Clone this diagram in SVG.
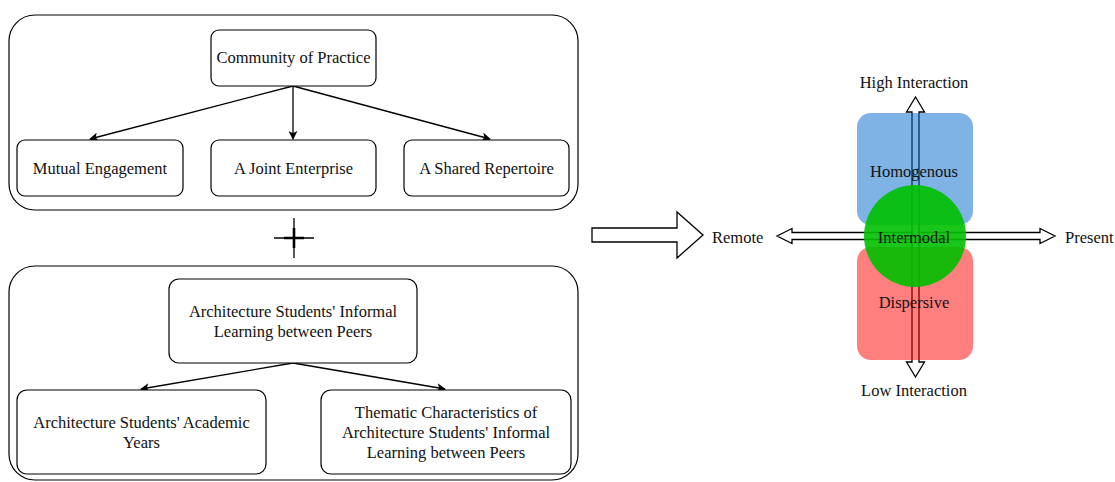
<svg xmlns="http://www.w3.org/2000/svg" width="1115" height="482" viewBox="0 0 1115 482">
<defs>
<style>
.box{fill:#fff;stroke:#000;stroke-width:1.2}
.cont{fill:none;stroke:#000;stroke-width:1.2}
text{font-family:"Liberation Serif","Times New Roman",serif;font-size:16.5px;fill:#111;text-anchor:middle;dominant-baseline:central}
.st{text-anchor:start}
.edge{stroke:#000;stroke-width:1.3;fill:none}
.hollow{fill:#fff;stroke:#000;stroke-width:1.3;stroke-linejoin:miter}
</style>
<marker id="ah" viewBox="0 0 10 10" refX="9" refY="5" markerWidth="9" markerHeight="9" markerUnits="userSpaceOnUse" orient="auto">
<path d="M0,0 L10,5 L0,10 L2.5,5 z" fill="#000"/>
</marker>
</defs>
<rect width="1115" height="482" fill="#fff"/>

<g id="top-container"><rect class="cont" x="9" y="15" width="569" height="195" rx="26"/></g>
<g id="bottom-container"><rect class="cont" x="9" y="266" width="569" height="214" rx="26"/></g>

<g id="connectors">
<line class="edge" x1="293" y1="86" x2="90" y2="139" marker-end="url(#ah)"/>
<line class="edge" x1="293" y1="86" x2="293" y2="139" marker-end="url(#ah)"/>
<line class="edge" x1="293" y1="86" x2="490" y2="139" marker-end="url(#ah)"/>
<line class="edge" x1="293" y1="363" x2="141" y2="389" marker-end="url(#ah)"/>
<line class="edge" x1="293" y1="363" x2="445" y2="389" marker-end="url(#ah)"/>
</g>

<g id="community"><rect class="box" x="211" y="30" width="165" height="56" rx="8"/><text x="293.5" y="57">Community of Practice</text></g>
<g id="mutual"><rect class="box" x="17" y="140" width="166" height="56" rx="8"/><text x="100" y="168">Mutual Engagement</text></g>
<g id="joint"><rect class="box" x="211" y="140" width="165" height="56" rx="8"/><text x="293.5" y="168">A Joint Enterprise</text></g>
<g id="shared"><rect class="box" x="404" y="140" width="165" height="56" rx="8"/><text x="486.5" y="168">A Shared Repertoire</text></g>

<g id="plus">
<path d="M274,238 L314,238" stroke="#000" stroke-width="1.3"/>
<path d="M294,218 L294,258" stroke="#000" stroke-width="1.3"/>
<path d="M284,238 L304,238 M294,228 L294,248" stroke="#000" stroke-width="2.6"/>
</g>

<g id="informal"><rect class="box" x="169" y="279" width="248" height="84" rx="10"/><text x="293" y="311">Architecture Students' Informal</text><text x="293" y="331">Learning between Peers</text></g>
<g id="years"><rect class="box" x="17" y="390" width="249" height="84" rx="10"/><text x="141.5" y="422">Architecture Students' Academic</text><text x="141.5" y="442">Years</text></g>
<g id="thematic"><rect class="box" x="321" y="390" width="250" height="84" rx="10"/><text x="446" y="412">Thematic Characteristics of</text><text x="446" y="432">Architecture Students' Informal</text><text x="446" y="452">Learning between Peers</text></g>

<g id="big-arrow"><polygon class="hollow" points="592,228 677,228 677,212 703,235 677,258 677,242 592,242"/></g>

<g id="axes">
<polygon class="hollow" points="777,236 792,228.5 792,232.5 1040,232.5 1040,228.5 1055,236 1040,243.5 1040,239.5 792,239.5 792,243.5"/>
<polygon class="hollow" points="915.5,97 924.5,112 919,112 919,362 924.5,362 915.5,377 906.5,362 912,362 912,112 906.5,112"/>
</g>

<g id="homogenous"><rect x="857" y="113" width="116" height="112" rx="14" fill="#0066CC" fill-opacity="0.5"/><text x="914" y="171">Homogenous</text></g>
<g id="dispersive"><rect x="857" y="247" width="116" height="113" rx="14" fill="#FF0000" fill-opacity="0.5"/><text x="914" y="302">Dispersive</text></g>
<g id="intermodal"><circle cx="915" cy="236" r="51" fill="#00C000" fill-opacity="0.9"/><text x="914" y="237">Intermodal</text></g>

<g id="labels">
<text class="st" x="712" y="237">Remote</text>
<text class="st" x="1065" y="237">Present</text>
<text x="914" y="82">High Interaction</text>
<text x="914" y="390">Low Interaction</text>
</g>
</svg>
